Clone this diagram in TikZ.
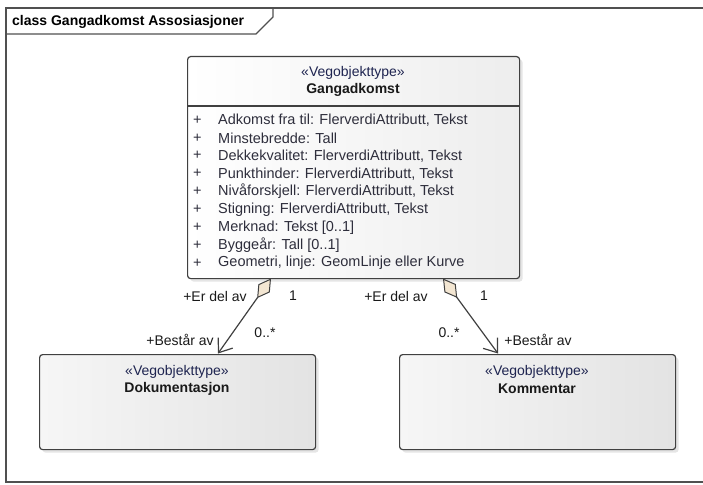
\documentclass[tikz,border=0pt]{standalone}
\usepackage{fontspec}
\setmainfont{Liberation Sans}
\usetikzlibrary{arrows.meta,shadows}
\definecolor{edge}{HTML}{404040}
\definecolor{framec}{HTML}{505050}
\definecolor{txt}{HTML}{2E2E3C}
\definecolor{stereo}{HTML}{1E2450}
\definecolor{dfill}{HTML}{F3E6D2}
\tikzset{
  classbox/.style={draw=edge, line width=1.2pt, rounded corners=3pt,
    left color=gray!7, middle color=white, right color=gray!22,
    drop shadow={shadow xshift=3pt, shadow yshift=-3pt, fill=gray!40, opacity=0.5},
    anchor=north west, inner sep=0pt},
  mainbox/.style={classbox, left color=white, middle color=white, right color=gray!14},
  stxt/.style={font=\fontsize{14}{16}\selectfont, text=stereo, inner sep=0pt},
  ntxt/.style={font=\fontsize{14}{16}\selectfont\bfseries, text=black!90, inner sep=0pt},
  atxt/.style={font=\fontsize{14.5}{16}\selectfont, text=txt, inner sep=0pt, anchor=west},
  lbl/.style={font=\fontsize{14}{16}\selectfont, text=black!90, inner sep=0pt},
  framel/.style={draw=framec, line width=1.3pt},
  assoc/.style={draw=edge, line width=1.2pt,
    {Diamond[length=24pt,width=14pt,fill=dfill,line width=1pt]}-{Straight Barb[length=12pt,width=18pt,line width=1.2pt]}},
}
\begin{document}
\begin{tikzpicture}[x=1pt,y=-1pt]
\useasboundingbox (0,0) rectangle (703,484);
% frame
\draw[framel] (703,8) -- (6,8) -- (6,482) -- (703,482);
\draw[framel] (6,34) -- (256,34) -- (273,17) -- (273,8);
\node[font=\fontsize{14}{16}\selectfont\bfseries, anchor=west, inner sep=0pt] (title) at (12,21.5) {class Gangadkomst Assosiasjoner};
% main class
\node[mainbox, minimum width=332pt, minimum height=222pt] (main) at (187,56) {};
\draw[draw=edge, line width=1.2pt] (187,106) -- (519,106);
\node[stxt] (mst) at (353,73) {«Vegobjekttype»};
\node[ntxt] (mname) at (353,90) {Gangadkomst};
\foreach \t [count=\i from 0] in {
  {Adkomst fra til: FlerverdiAttributt, Tekst},
  {Minstebredde: Tall},
  {Dekkekvalitet: FlerverdiAttributt, Tekst},
  {Punkthinder: FlerverdiAttributt, Tekst},
  {Nivåforskjell: FlerverdiAttributt, Tekst},
  {Stigning: FlerverdiAttributt, Tekst},
  {Merknad: Tekst [0..1]},
  {Byggeår: Tall [0..1]},
  {Geometri, linje: GeomLinje eller Kurve}} {
  \node[atxt] (p\i) at (193,{120+17.9*\i}) {+};
  \node[atxt] (a\i) at (218,{120+17.9*\i}) {\t};
}
% sub classes
\node[classbox, minimum width=276pt, minimum height=95pt] (dok) at (39,354) {};
\node[stxt] (dst) at (177,372) {«Vegobjekttype»};
\node[ntxt] (dname) at (177,389) {Dokumentasjon};
\node[classbox, minimum width=276pt, minimum height=95pt] (kom) at (399,354) {};
\node[stxt] (kst) at (537,372) {«Vegobjekttype»};
\node[ntxt] (kname) at (537,389) {Kommentar};
% associations
\coordinate (d1) at (271,278.5);
\coordinate (t1) at (218,353.5);
\coordinate (d2) at (443,278.5);
\coordinate (t2) at (498,353.5);
\draw[assoc] (d1) -- (t1);
\draw[assoc] (d2) -- (t2);
% labels
\node[lbl] (l1) at (215,296) {+Er del av};
\node[lbl] (l2) at (293,296) {1};
\node[lbl] (l3) at (180,340) {+Består av};
\node[lbl] (l4) at (265,333) {0..*};
\node[lbl] (r1) at (396,296) {+Er del av};
\node[lbl] (r2) at (484,296) {1};
\node[lbl] (r3) at (449,333) {0..*};
\node[lbl] (r4) at (538,340) {+Består av};
\end{tikzpicture}
\end{document}
